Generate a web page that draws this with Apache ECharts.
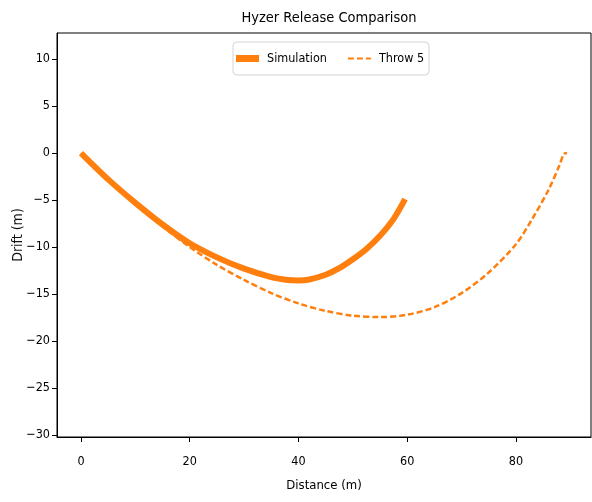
<!DOCTYPE html>
<html>
<head>
<meta charset="utf-8">
<script src="https://cdn.jsdelivr.net/npm/echarts@6/dist/echarts.min.js"></script>
<style>
  html, body { margin: 0; padding: 0; background: #fff; }
  #chart { width: 592px; height: 502px; }
</style>
</head>
<body>
<div id="chart"></div>
<script>
// Simulated hyzer flight path (distance, drift) in metres
const simDistance = [0, 5, 10, 15, 20, 25, 30, 35, 38, 40, 42, 45, 47.5, 50, 52.5, 55, 57.5, 59.6];
const simDrift    = [0, -2.8, -5.3, -7.6, -9.6, -11.1, -12.3, -13.2, -13.5, -13.55, -13.45, -12.95, -12.25, -11.3, -10.2, -8.8, -7.0, -4.9];

// Measured flight path for throw 5
const throwDistance = [0, 5, 10, 15, 20, 25, 30, 35, 40, 45, 50, 55, 60, 65, 70, 75, 80, 83, 86, 88, 88.8, 89.4];
const throwDrift    = [0, -2.8, -5.4, -7.8, -10.0, -11.9, -13.5, -14.9, -16.0, -16.8, -17.3, -17.45, -17.2, -16.4, -14.9, -12.7, -9.7, -7.0, -3.9, -1.3, -0.1, 0.0];

const xTicks = [0, 20, 40, 60, 80];
const yTicks = [-30, -25, -20, -15, -10, -5, 0, 5, 10];

const FONT = 'DejaVu Sans Condensed, DejaVu Sans, sans-serif';
const ORANGE = '#ff7f0e';

const pairs = (xs, ys) => xs.map((x, i) => [x, ys[i]]);
const minusSign = v => String(v).replace('-', '\u2212');

const chart = echarts.init(document.getElementById('chart'), null, { renderer: 'canvas' });

chart.setOption({
  animation: false,
  backgroundColor: '#fff',
  title: {
    text: 'Hyzer Release Comparison',
    left: 324,
    textAlign: 'center',
    top: 6,
    textStyle: { fontFamily: FONT, fontSize: 14.5, fontWeight: 'normal', color: '#000' }
  },
  legend: {
    left: 233,
    top: 42,
    padding: [10, 5, 10, 3],
    itemGap: 20,
    itemWidth: 23,
    itemHeight: 7,
    borderColor: '#d4d4d4',
    borderWidth: 1,
    borderRadius: 4,
    textStyle: { fontFamily: FONT, fontSize: 12.5, color: '#000', padding: [0, 0, 0, 3] },
    data: [
      { name: 'Simulation', icon: 'rect', itemStyle: { color: ORANGE } },
      { name: 'Throw 5', itemStyle: { opacity: 0 } }
    ]
  },
  grid: {
    left: 57, right: 1, top: 33, bottom: 65,
    containLabel: false,
    outerBoundsMode: 'none',
    show: true, borderColor: '#000', borderWidth: 1
  },
  xAxis: {
    type: 'value',
    min: -4.41, max: 93.8,
    name: 'Distance (m)',
    nameLocation: 'middle',
    nameGap: 42,
    nameMoveOverlap: false,
    nameTextStyle: { fontFamily: FONT, fontSize: 13, color: '#000' },
    axisLine: { show: true, onZero: false, lineStyle: { color: '#000' } },
    axisTick: { show: true, customValues: xTicks, length: 5, lineStyle: { color: '#000' } },
    axisLabel: { customValues: xTicks, fontFamily: FONT, fontSize: 12.5, color: '#000', margin: 18, formatter: minusSign },
    splitLine: { show: false }
  },
  yAxis: {
    type: 'value',
    min: -30.21, max: 12.77,
    name: 'Drift (m)',
    nameLocation: 'middle',
    nameGap: 32,
    nameMoveOverlap: false,
    nameTextStyle: { fontFamily: FONT, fontSize: 14, color: '#111' },
    axisLine: { show: true, onZero: false, lineStyle: { color: '#000' } },
    axisTick: { show: true, customValues: yTicks, length: 5, lineStyle: { color: '#000' } },
    axisLabel: { customValues: yTicks, fontFamily: FONT, fontSize: 12.5, color: '#000', margin: 7, formatter: minusSign },
    splitLine: { show: false }
  },
  series: [
    {
      name: 'Simulation',
      type: 'line',
      data: pairs(simDistance, simDrift),
      smooth: 0.3,
      showSymbol: false,
      symbol: 'none',
      lineStyle: { color: ORANGE, width: 6 },
      itemStyle: { color: ORANGE },
      z: 3
    },
    {
      name: 'Throw 5',
      type: 'line',
      data: pairs(throwDistance, throwDrift),
      smooth: 0.3,
      showSymbol: false,
      symbol: 'none',
      lineStyle: { color: ORANGE, width: 2.5, type: [6, 3] },
      itemStyle: { color: ORANGE },
      z: 2
    }
  ]
});
</script>
</body>
</html>
